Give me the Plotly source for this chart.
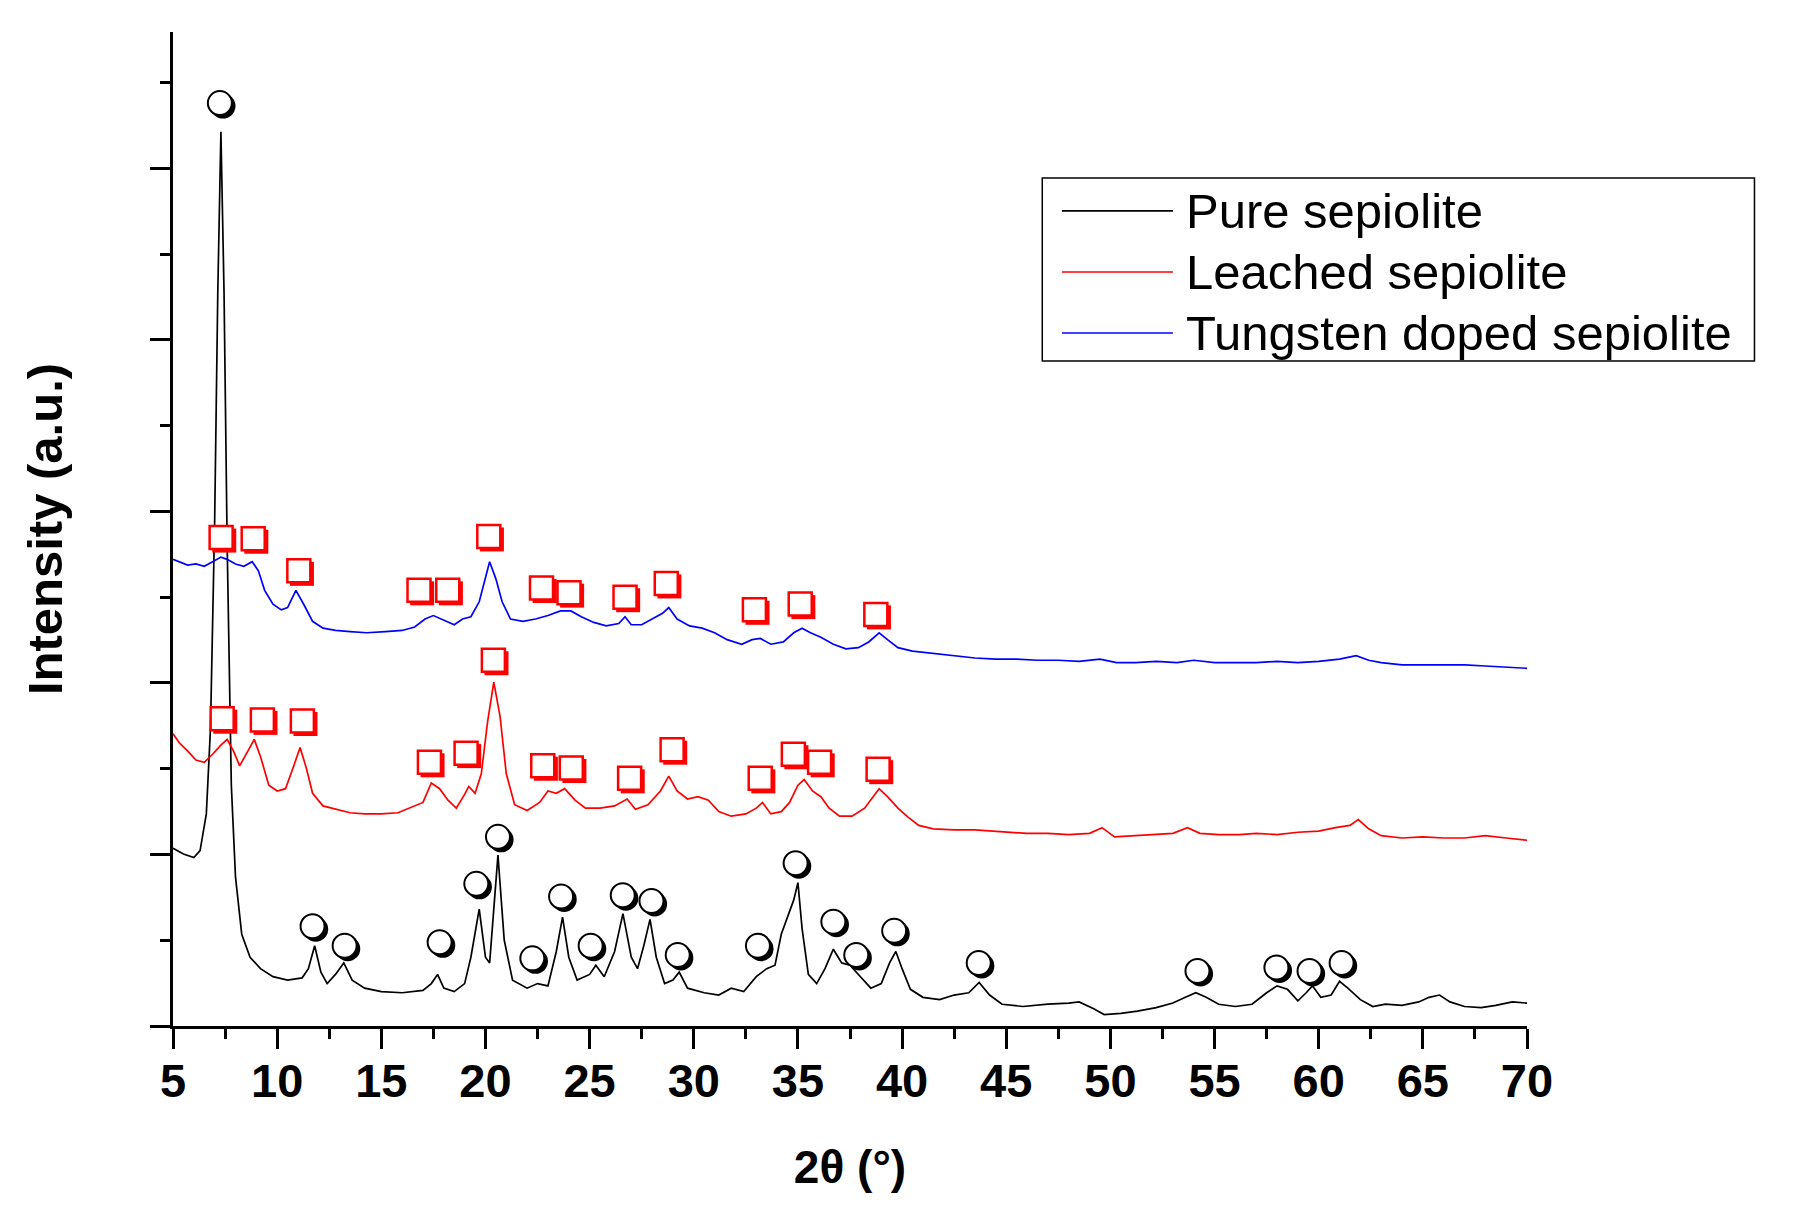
import plotly.graph_objects as go

# XRD patterns, intensity in arbitrary units (one minor y tick = 74.8 a.u.)
pure_x = [5.0, 5.5, 6.0, 6.3, 6.6, 6.8, 7.0, 7.15, 7.3, 7.45, 7.6, 7.8, 8.0, 8.3, 8.7, 9.2, 9.8, 10.5,
          11.2, 11.5, 11.8, 12.1, 12.4, 12.8, 13.2, 13.6, 14.2, 15.0, 16.0, 17.0, 17.4, 17.7, 18.0, 18.5,
          19.0, 19.3, 19.7, 20.0, 20.2, 20.4, 20.6, 20.9, 21.3, 22.0, 22.5, 23.0, 23.4, 23.7, 24.0, 24.4,
          25.0, 25.3, 25.7, 26.2, 26.6, 27.0, 27.3, 27.6, 27.9, 28.2, 28.6, 29.0, 29.3, 29.7, 30.5, 31.2,
          31.8, 32.4, 33.0, 33.5, 33.9, 34.2, 34.5, 34.8, 35.0, 35.2, 35.5, 35.9, 36.3, 36.7, 37.1, 37.5,
          38.0, 38.5, 39.0, 39.4, 39.7, 40.0, 40.4, 41.0, 41.8, 42.5, 43.2, 43.7, 44.2, 44.8, 45.8, 47.0,
          48.0, 48.5, 49.2, 49.7, 50.5, 51.3, 52.2, 53.0, 53.6, 54.1, 54.6, 55.2, 56.0, 56.8, 57.5, 58.0,
          58.5, 59.0, 59.4, 59.7, 60.1, 60.6, 61.0, 61.4, 62.0, 62.6, 63.2, 64.0, 64.8, 65.3, 65.8, 66.3,
          67.0, 67.8, 68.5, 69.3, 70.0]
pure_y = [155, 150, 147, 153, 185, 260, 440, 640, 780, 640, 420, 210, 130, 80, 60, 50, 43, 40,
          42, 50, 70, 47, 37, 45, 55, 40, 33, 30, 29, 31, 37, 45, 33, 30,
          37, 60, 102, 60, 55, 105, 149, 75, 40, 33, 37, 35, 65, 95, 60, 40,
          45, 53, 43, 65, 98, 60, 50, 70, 93, 60, 37, 40, 47, 33, 29, 27,
          33, 30, 43, 50, 53, 80, 95, 110, 125, 85, 45, 37, 50, 67, 55, 53,
          43, 33, 37, 55, 65, 50, 32, 25, 23, 27, 29, 38, 27, 19, 17, 19,
          20, 21, 15, 10, 11, 13, 16, 20, 25, 29, 25, 19, 17, 19, 29, 35,
          32, 22, 29, 35, 25, 27, 39, 33, 23, 17, 19, 18, 21, 25, 27, 21,
          17, 16, 18, 21, 20]

leached_x = [5.0, 5.3, 5.7, 6.1, 6.5, 6.9, 7.3, 7.6, 7.9, 8.2, 8.6, 8.9, 9.2, 9.6, 10.0, 10.4, 10.8,
             11.1, 11.4, 11.7, 12.2, 12.8, 13.5, 14.2, 15.0, 15.8, 16.5, 17.0, 17.4, 17.8, 18.2, 18.6,
             19.0, 19.2, 19.5, 19.8, 20.1, 20.4, 20.7, 21.0, 21.4, 22.0, 22.6, 23.0, 23.4, 23.8, 24.3,
             24.8, 25.5, 26.2, 26.8, 27.2, 27.8, 28.4, 28.8, 29.2, 29.7, 30.2, 30.7, 31.2, 31.8, 32.5,
             33.0, 33.3, 33.7, 34.2, 34.6, 35.0, 35.3, 35.7, 36.1, 36.5, 37.0, 37.6, 38.2, 38.6, 38.9,
             39.3, 39.8, 40.3, 40.8, 41.5, 42.5, 43.5, 44.3, 45.0, 46.0, 47.0, 48.0, 49.0, 49.6, 50.2,
             51.0, 52.0, 53.0, 53.7, 54.3, 55.2, 56.2, 57.0, 58.0, 59.0, 60.0, 60.8, 61.5, 61.9, 62.4,
             63.0, 64.0, 65.0, 66.0, 67.0, 68.0, 69.0, 70.0]
leached_y = [255, 247, 240, 232, 230, 237, 245, 250, 240, 227, 240, 250, 235, 210, 205, 207, 227,
             243, 225, 203, 192, 189, 186, 185, 185, 186, 191, 195, 212, 207, 197, 190,
             202, 209, 203, 220, 265, 300, 270, 220, 193, 188, 195, 205, 203, 207, 197,
             190, 190, 192, 198, 189, 193, 205, 218, 205, 198, 200, 197, 187, 183, 185,
             190, 195, 185, 187, 195, 210, 215, 205, 200, 190, 183, 183, 190, 200, 207,
             200, 190, 182, 175, 172, 171, 171, 170, 169, 168, 168, 167, 168, 173, 165,
             166, 167, 168, 173, 168, 167, 167, 168, 167, 169, 170, 173, 175, 180, 172,
             166, 164, 165, 164, 164, 166, 164, 162]

doped_x = [5.0, 5.3, 5.7, 6.1, 6.5, 6.9, 7.3, 7.6, 8.0, 8.4, 8.8, 9.1, 9.4, 9.8, 10.2, 10.5, 10.9,
           11.3, 11.7, 12.2, 12.8, 13.5, 14.3, 15.2, 16.0, 16.6, 17.1, 17.5, 18.0, 18.5, 18.9, 19.3,
           19.7, 20.0, 20.2, 20.5, 20.8, 21.2, 21.8, 22.4, 23.0, 23.6, 24.1, 24.6, 25.2, 25.8, 26.4,
           26.7, 27.0, 27.5, 28.0, 28.5, 28.8, 29.2, 29.8, 30.4, 31.0, 31.6, 32.3, 32.8, 33.2, 33.7,
           34.3, 34.8, 35.2, 35.6, 36.1, 36.7, 37.3, 37.9, 38.4, 38.9, 39.3, 39.8, 40.5, 41.5, 42.5,
           43.5, 44.5, 45.5, 46.5, 47.5, 48.5, 49.5, 50.3, 51.2, 52.2, 53.2, 54.0, 55.0, 56.0, 57.0,
           58.0, 59.0, 60.0, 61.0, 61.8, 62.4, 63.0, 64.0, 65.0, 66.0, 67.0, 68.0, 69.0, 70.0]
doped_y = [407, 405, 402, 403, 401, 405, 409, 407, 403, 401, 405, 397, 380, 368, 363, 365, 380,
           367, 353, 347, 345, 344, 343, 344, 345, 348, 355, 358, 354, 350, 355, 357,
           370, 390, 405, 390, 370, 355, 353, 355, 358, 362, 362, 357, 352, 349, 351,
           357, 350, 350, 355, 360, 365, 355, 349, 347, 343, 337, 333, 337, 338, 333,
           335, 343, 347, 343, 339, 333, 329, 330, 335, 343, 337, 330, 327, 325, 323,
           321, 320, 320, 319, 319, 318, 320, 317, 317, 318, 317, 319, 317, 317, 317,
           318, 317, 318, 320, 323, 319, 317, 315, 315, 315, 315, 314, 313, 312]

# peak markers: circles = sepiolite, squares = other phase
circle_x = [7.25, 11.70, 13.24, 17.80, 19.56, 20.60, 22.25, 23.63, 25.05, 26.59, 27.97, 29.23,
            33.08, 34.89, 36.70, 37.80, 39.62, 43.68, 54.18, 57.97, 59.56, 61.10]
circle_y = [805, 87, 70, 73, 124, 165, 59, 113, 70, 114, 109, 62,
            70, 142, 91, 62, 83, 55, 48, 51, 48, 55]
leached_sq_x = [7.36, 9.29, 11.21, 17.31, 19.07, 20.38, 22.75, 24.12, 26.92, 28.96, 33.19, 34.78, 36.04, 38.85]
leached_sq_y = [268, 267, 266, 230, 238, 319, 227, 225, 216, 241, 216, 237, 230, 224]
doped_sq_x = [7.31, 8.85, 11.04, 16.81, 18.19, 20.16, 22.69, 24.01, 26.70, 28.68, 32.91, 35.11, 38.74]
doped_sq_y = [426, 425, 397, 380, 380, 427, 382, 378, 374, 386, 363, 368, 359]

names = ["Pure sepiolite", "Leached sepiolite", "Tungsten doped sepiolite"]
colors = ["black", "red", "blue"]

FONT = "Arial, Liberation Sans, sans-serif"
unit = 74.8

fig = go.Figure()
for xs, ys, c in [(pure_x, pure_y, colors[0]), (leached_x, leached_y, colors[1]), (doped_x, doped_y, colors[2])]:
    fig.add_trace(go.Scatter(x=xs, y=ys, mode="lines", line=dict(color=c, width=1.7), showlegend=False))

# shadowed symbols
def add_symbols(xs, ys, symbol, col, fill, size, lw):
    fig.add_trace(go.Scatter(x=[v + 0.15 for v in xs], y=[v - 2.6 for v in ys], mode="markers",
                             marker=dict(symbol=symbol, size=size + 1, color=col, line=dict(width=0)),
                             showlegend=False))
    fig.add_trace(go.Scatter(x=xs, y=ys, mode="markers",
                             marker=dict(symbol=symbol, size=size, color=fill, line=dict(width=lw, color=col)),
                             showlegend=False))

add_symbols(circle_x, circle_y, "circle", "black", "white", 24, 2)
add_symbols(leached_sq_x, leached_sq_y, "square", "red", "white", 23, 2.5)
add_symbols(doped_sq_x, doped_sq_y, "square", "red", "white", 23, 2.5)

# legend box drawn by hand (long line samples)
fig.add_shape(type="rect", xref="paper", yref="paper", x0=0.642, x1=1.168, y0=0.669, y1=0.853,
              line=dict(color="black", width=1.5), fillcolor="white", layer="above")
row_y = [0.820, 0.7586, 0.6972]
for nm, c, ry in zip(names, colors, row_y):
    fig.add_shape(type="line", xref="paper", yref="paper", x0=0.6565, x1=0.7385, y0=ry, y1=ry,
                  line=dict(color=c, width=1.6), layer="above")
    fig.add_annotation(xref="paper", yref="paper", x=0.7466, y=ry, text=nm, showarrow=False,
                       xanchor="left", yanchor="middle", font=dict(family=FONT, size=49, color="black"))

# page body adds an 8 px margin, so the figure is 16 px smaller and margins shifted
fig.update_layout(
    width=1777, height=1195,
    margin=dict(l=165, r=258, t=24, b=177),
    plot_bgcolor="white", paper_bgcolor="white",
    font=dict(family=FONT, color="black"),
)
fig.update_xaxes(
    range=[5, 70], tick0=5, dtick=5, ticks="outside", ticklen=20, tickwidth=3, tickcolor="black",
    minor=dict(dtick=2.5, ticks="outside", ticklen=10, tickwidth=3, tickcolor="black"),
    showline=True, linecolor="black", linewidth=3, showgrid=False, zeroline=False,
    tickfont=dict(family=FONT, size=47, color="black"), ticklabelstandoff=-8,
    title=dict(text="<b>2θ (°)</b>", font=dict(family=FONT, size=46, color="black"), standoff=45),
    tickprefix="<b>", ticksuffix="</b>",
)
fig.update_yaxes(
    range=[0, 867], tick0=0, dtick=2 * unit, ticks="outside", ticklen=20, tickwidth=3, tickcolor="black",
    minor=dict(dtick=unit, ticks="outside", ticklen=10, tickwidth=3, tickcolor="black"),
    showline=True, linecolor="black", linewidth=3, showgrid=False, zeroline=False, showticklabels=False,
    title=dict(text="<b>Intensity (a.u.)</b>", font=dict(family=FONT, size=49, color="black"), standoff=72),
)

fig.write_html("out.html")
